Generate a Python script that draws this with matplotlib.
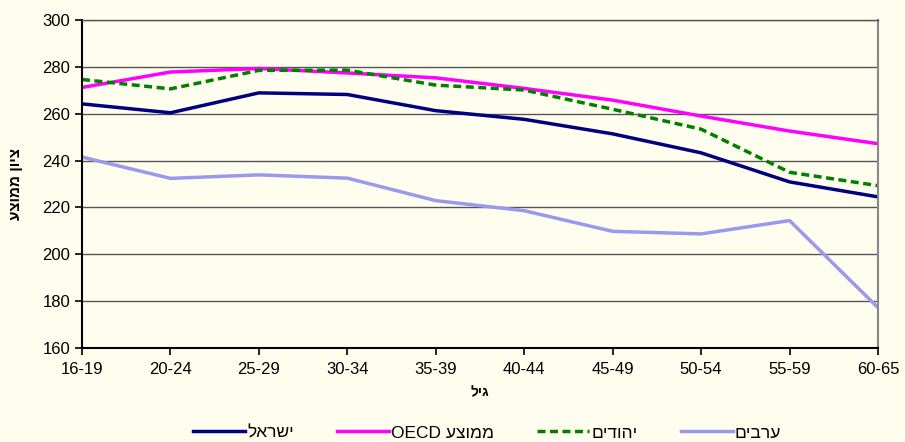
import matplotlib
matplotlib.use("Agg")
import matplotlib.pyplot as plt

plt.rcParams['font.family'] = ['Liberation Sans', 'DejaVu Sans']

age_groups = ["16-19", "20-24", "25-29", "30-34", "35-39", "40-44", "45-49", "50-54", "55-59", "60-65"]
israel = [264.2, 260.4, 268.9, 268.2, 261.3, 257.6, 251.4, 243.3, 230.9, 224.5]
oecd = [271.2, 277.8, 279.3, 277.4, 275.3, 270.8, 265.8, 259.0, 252.6, 247.2]
jews = [274.6, 270.6, 278.5, 278.6, 272.2, 270.1, 261.9, 253.4, 235.0, 229.3]
arabs = [241.5, 232.4, 233.9, 232.5, 222.9, 218.6, 209.8, 208.7, 214.4, 177.2]

# Hebrew labels in visual (left-to-right) order
lbl_israel = "לארשי"
lbl_oecd = "OECD עצוממ"
lbl_jews = "םידוהי"
lbl_arabs = "םיברע"
ylabel = "עצוממ ןויצ"
xlabel = "ליג"

bg = "#FFFDEE"
fig = plt.figure(figsize=(9.05, 4.42), dpi=100, facecolor=bg)
ax = fig.add_axes([82/905, 1-348/442, (878-82)/905, (348-20)/442])
ax.set_facecolor(bg)

x = list(range(len(age_groups)))
ax.plot(x, israel, color="#000080", lw=2.5, label=lbl_israel, solid_joinstyle='round')
ax.plot(x, oecd, color="#FF00FF", lw=2.5, label=lbl_oecd, solid_joinstyle='round')
ax.plot(x, jews, color="#008000", lw=2.5, dashes=(2.3, 1.3), label=lbl_jews)
ax.plot(x, arabs, color="#9999EE", lw=2.5, label=lbl_arabs, solid_joinstyle='round')

ax.set_xlim(0, len(age_groups)-1)
ax.set_ylim(160, 300)
ax.set_yticks(range(160, 301, 20))
ax.set_xticks(x)
ax.set_xticklabels(age_groups)
ax.yaxis.grid(True, color="#555555", lw=1.0)
ax.set_axisbelow(True)
ax.tick_params(axis='both', labelsize=12, direction='out', length=5, width=1.2, colors='black')
ax.tick_params(axis='x', pad=5)
for s in ['left', 'bottom']:
    ax.spines[s].set_color('black')
    ax.spines[s].set_linewidth(1.5)
ax.spines['right'].set_color('#888888')
ax.spines['right'].set_linewidth(1.5)
ax.spines['top'].set_color('#555555')
ax.spines['top'].set_linewidth(1.0)

ax.set_ylabel(ylabel, fontsize=11, fontweight='bold', labelpad=14)
ax.set_xlabel(xlabel, fontsize=10, fontweight='bold', labelpad=6)

leg = fig.legend(loc='center', bbox_to_anchor=(487/905, 1-433/442), ncol=4,
                 frameon=False, fontsize=12.5, handlelength=3.0, handletextpad=0.1,
                 columnspacing=2.5)

fig.savefig("out.png", dpi=100, facecolor=bg)
